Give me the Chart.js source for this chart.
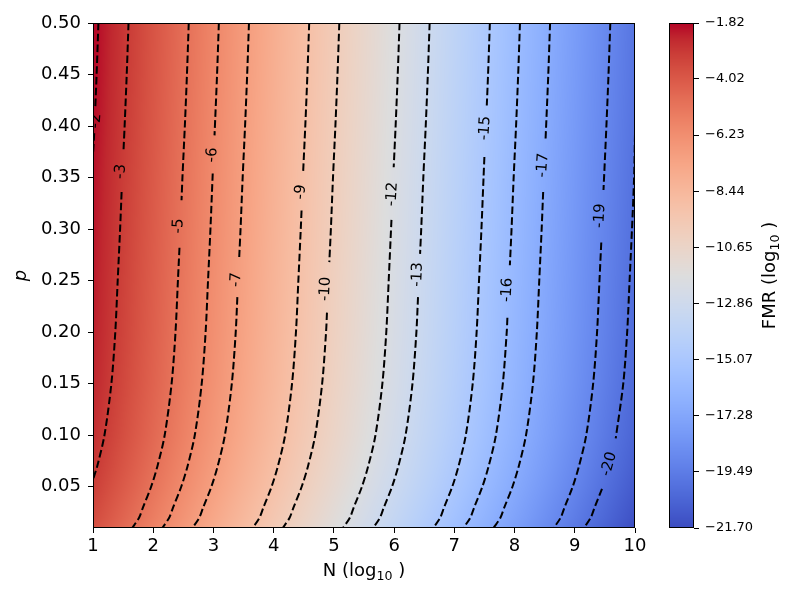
<!DOCTYPE html>
<html>
<head>
<meta charset="utf-8">
<script src="https://cdn.jsdelivr.net/npm/chart.js@4.4.1/dist/chart.umd.min.js"></script>
<style>
  html, body { margin: 0; padding: 0; background: #fff; }
  #wrap { position: relative; width: 800px; height: 600px; }
  #main { position: absolute; left: 0; top: 0; }
  #cbar { position: absolute; left: 655px; top: 0; }
</style>
</head>
<body>
<div id="wrap">
  <canvas id="main" width="800" height="600"></canvas>
  <canvas id="cbar" width="145" height="600"></canvas>
</div>
<script>
/* FMR (log10) over N (log10) and p, with dashed contour lines */

// grid of the coloured field
const nGrid = [1, 1.5, 2, 2.5, 3, 3.5, 4, 4.5, 5, 5.5, 6, 6.5, 7, 7.5, 8, 8.5, 9, 9.5, 10];
const pGrid = [0.5, 0.45, 0.4, 0.35, 0.3, 0.25, 0.2, 0.15, 0.1, 0.07, 0.05, 0.03, 0.02, 0.01];
const fmrGrid = [
  [-1.82, -2.82, -3.82, -4.82, -5.82, -6.82, -7.82, -8.82, -9.82, -10.82, -11.82, -12.82, -13.82, -14.82, -15.82, -16.82, -17.82, -18.82, -19.82],
  [-1.88, -2.88, -3.88, -4.88, -5.88, -6.88, -7.88, -8.88, -9.88, -10.88, -11.88, -12.88, -13.88, -14.88, -15.88, -16.88, -17.88, -18.88, -19.88],
  [-1.95, -2.95, -3.95, -4.95, -5.95, -6.95, -7.95, -8.95, -9.95, -10.95, -11.95, -12.95, -13.95, -14.95, -15.95, -16.95, -17.95, -18.95, -19.95],
  [-2.03, -3.03, -4.03, -5.03, -6.03, -7.03, -8.03, -9.03, -10.03, -11.03, -12.03, -13.03, -14.03, -15.03, -16.03, -17.03, -18.03, -19.03, -20.03],
  [-2.10, -3.10, -4.10, -5.10, -6.10, -7.10, -8.10, -9.10, -10.10, -11.10, -12.10, -13.10, -14.10, -15.10, -16.10, -17.10, -18.10, -19.10, -20.10],
  [-2.18, -3.18, -4.18, -5.18, -6.18, -7.18, -8.18, -9.18, -10.18, -11.18, -12.18, -13.18, -14.18, -15.18, -16.18, -17.18, -18.18, -19.18, -20.18],
  [-2.26, -3.26, -4.26, -5.26, -6.26, -7.26, -8.26, -9.26, -10.26, -11.26, -12.26, -13.26, -14.26, -15.26, -16.26, -17.26, -18.26, -19.26, -20.26],
  [-2.39, -3.39, -4.39, -5.39, -6.39, -7.39, -8.39, -9.39, -10.39, -11.39, -12.39, -13.39, -14.39, -15.39, -16.39, -17.39, -18.39, -19.39, -20.39],
  [-2.62, -3.62, -4.62, -5.62, -6.62, -7.62, -8.62, -9.62, -10.62, -11.62, -12.62, -13.62, -14.62, -15.62, -16.62, -17.62, -18.62, -19.62, -20.62],
  [-2.86, -3.86, -4.86, -5.86, -6.86, -7.86, -8.86, -9.86, -10.86, -11.86, -12.86, -13.86, -14.86, -15.86, -16.86, -17.86, -18.86, -19.86, -20.86],
  [-3.07, -4.07, -5.07, -6.07, -7.07, -8.07, -9.07, -10.07, -11.07, -12.07, -13.07, -14.07, -15.07, -16.07, -17.07, -18.07, -19.07, -20.07, -21.07],
  [-3.34, -4.34, -5.34, -6.34, -7.34, -8.34, -9.34, -10.34, -11.34, -12.34, -13.34, -14.34, -15.34, -16.34, -17.34, -18.34, -19.34, -20.34, -21.34],
  [-3.47, -4.47, -5.47, -6.47, -7.47, -8.47, -9.47, -10.47, -11.47, -12.47, -13.47, -14.47, -15.47, -16.47, -17.47, -18.47, -19.47, -20.47, -21.47],
  [-3.70, -4.70, -5.70, -6.70, -7.70, -8.70, -9.70, -10.70, -11.70, -12.70, -13.70, -14.70, -15.70, -16.70, -17.70, -18.70, -19.70, -20.70, -21.70]
];

// contour levels; each one is a list of segments of [N, p] points (gaps where the label sits)
const contourLevels = [-2, -3, -5, -6, -7, -9, -10, -12, -13, -15, -16, -17, -19, -20];
const contourSegs = [
  [[[1.09, 0.5], [1.06, 0.45], [1.038, 0.418]], [[1.02, 0.393], [1.0, 0.372]]],
  [[[1.59, 0.5], [1.56, 0.45], [1.525, 0.4], [1.507, 0.377]],
   [[1.475, 0.336], [1.45, 0.3], [1.41, 0.25], [1.37, 0.2], [1.305, 0.15], [1.19, 0.1], [1.07, 0.07], [1.0, 0.057]]],
  [[[2.59, 0.5], [2.56, 0.45], [2.525, 0.4], [2.485, 0.35], [2.47, 0.328]],
   [[2.436, 0.282], [2.41, 0.25], [2.37, 0.2], [2.305, 0.15], [2.19, 0.1], [2.07, 0.07], [1.965, 0.05], [1.83, 0.03], [1.765, 0.02], [1.65, 0.01]]],
  [[[3.09, 0.5], [3.06, 0.45], [3.018, 0.391]],
   [[2.988, 0.354], [2.95, 0.3], [2.91, 0.25], [2.87, 0.2], [2.805, 0.15], [2.69, 0.1], [2.57, 0.07], [2.465, 0.05], [2.33, 0.03], [2.265, 0.02], [2.15, 0.01]]],
  [[[3.59, 0.5], [3.56, 0.45], [3.525, 0.4], [3.485, 0.35], [3.45, 0.3], [3.428, 0.273]],
   [[3.397, 0.234], [3.37, 0.2], [3.305, 0.15], [3.19, 0.1], [3.07, 0.07], [2.965, 0.05], [2.83, 0.03], [2.765, 0.02], [2.65, 0.01]]],
  [[[4.59, 0.5], [4.56, 0.45], [4.525, 0.4], [4.489, 0.355]],
   [[4.463, 0.318], [4.45, 0.3], [4.41, 0.25], [4.37, 0.2], [4.305, 0.15], [4.19, 0.1], [4.07, 0.07], [3.965, 0.05], [3.83, 0.03], [3.765, 0.02], [3.65, 0.01]]],
  [[[5.09, 0.5], [5.06, 0.45], [5.025, 0.4], [4.985, 0.35], [4.95, 0.3], [4.924, 0.268]],
   [[4.885, 0.219], [4.87, 0.2], [4.805, 0.15], [4.69, 0.1], [4.57, 0.07], [4.465, 0.05], [4.33, 0.03], [4.265, 0.02], [4.15, 0.01]]],
  [[[6.09, 0.5], [6.06, 0.45], [6.025, 0.4], [5.993, 0.36]],
   [[5.956, 0.309], [5.91, 0.25], [5.87, 0.2], [5.805, 0.15], [5.69, 0.1], [5.57, 0.07], [5.465, 0.05], [5.33, 0.03], [5.265, 0.02], [5.15, 0.01]]],
  [[[6.59, 0.5], [6.56, 0.45], [6.525, 0.4], [6.485, 0.35], [6.45, 0.3], [6.431, 0.276]],
   [[6.397, 0.234], [6.37, 0.2], [6.305, 0.15], [6.19, 0.1], [6.07, 0.07], [5.965, 0.05], [5.83, 0.03], [5.765, 0.02], [5.65, 0.01]]],
  [[[7.59, 0.5], [7.56, 0.45], [7.539, 0.42]],
   [[7.499, 0.37], [7.485, 0.35], [7.45, 0.3], [7.41, 0.25], [7.37, 0.2], [7.305, 0.15], [7.19, 0.1], [7.07, 0.07], [6.965, 0.05], [6.83, 0.03], [6.765, 0.02], [6.65, 0.01]]],
  [[[8.09, 0.5], [8.06, 0.45], [8.025, 0.4], [7.985, 0.35], [7.95, 0.3], [7.922, 0.265]],
   [[7.881, 0.214], [7.87, 0.2], [7.805, 0.15], [7.69, 0.1], [7.57, 0.07], [7.465, 0.05], [7.33, 0.03], [7.265, 0.02], [7.15, 0.01]]],
  [[[8.59, 0.5], [8.56, 0.45], [8.514, 0.386]],
   [[8.475, 0.336], [8.45, 0.3], [8.41, 0.25], [8.37, 0.2], [8.305, 0.15], [8.19, 0.1], [8.07, 0.07], [7.965, 0.05], [7.83, 0.03], [7.765, 0.02], [7.65, 0.01]]],
  [[[9.59, 0.5], [9.56, 0.45], [9.525, 0.4], [9.477, 0.338]],
   [[9.44, 0.287], [9.41, 0.25], [9.37, 0.2], [9.305, 0.15], [9.19, 0.1], [9.07, 0.07], [8.965, 0.05], [8.83, 0.03], [8.765, 0.02], [8.65, 0.01]]],
  [[[10.0, 0.392], [9.985, 0.35], [9.95, 0.3], [9.91, 0.25], [9.87, 0.2], [9.805, 0.15], [9.68, 0.097]],
   [[9.452, 0.048], [9.33, 0.03], [9.265, 0.02], [9.15, 0.01]]]
];

// inline contour labels: position (N, p) and text angle in degrees
const labelN = [1.05, 1.46, 2.42, 2.98, 3.38, 4.45, 4.86, 5.97, 6.39, 7.51, 7.88, 8.47, 9.42, 9.57];
const labelP = [0.405, 0.356, 0.303, 0.372, 0.251, 0.336, 0.242, 0.334, 0.256, 0.398, 0.241, 0.362, 0.313, 0.072];
const labelAngle = [-86, -86, -87, -86, -87, -86, -87, -86, -87, -86, -87, -86, -87, -74];

const xTicks = [1, 2, 3, 4, 5, 6, 7, 8, 9, 10];
const yTicks = [0.05, 0.10, 0.15, 0.20, 0.25, 0.30, 0.35, 0.40, 0.45, 0.50];
const cbTicks = [-1.82, -4.02, -6.23, -8.44, -10.65, -12.86, -15.07, -17.28, -19.49, -21.70];

const FONT = 'DejaVu Sans';
const cbMax = cbTicks[0];
const cbMin = cbTicks[cbTicks.length - 1];

// matplotlib "coolwarm" colour table
const coolwarm = [
  [59, 76, 192], [68, 90, 204], [77, 104, 215], [87, 117, 225], [98, 130, 234], [108, 142, 241],
  [119, 154, 247], [130, 165, 251], [141, 176, 254], [152, 185, 255], [163, 194, 255], [174, 201, 253],
  [184, 208, 249], [194, 213, 244], [204, 217, 238], [213, 219, 230], [221, 221, 221], [229, 216, 209],
  [236, 211, 197], [241, 204, 185], [245, 196, 173], [247, 187, 160], [247, 177, 148], [247, 166, 135],
  [244, 154, 123], [241, 141, 111], [236, 127, 99], [229, 112, 88], [222, 96, 77], [213, 80, 66],
  [203, 62, 56], [192, 40, 47], [180, 4, 38]
];

function colourAt(v) {
  let t = (v - cbMin) / (cbMax - cbMin);
  t = Math.min(1, Math.max(0, t));
  const f = t * (coolwarm.length - 1);
  const k = Math.min(Math.floor(f), coolwarm.length - 2);
  const u = f - k;
  const a = coolwarm[k], b = coolwarm[k + 1];
  return [a[0] + (b[0] - a[0]) * u, a[1] + (b[1] - a[1]) * u, a[2] + (b[2] - a[2]) * u];
}

// index + fraction of v inside a (possibly descending) grid
function locate(arr, v) {
  const last = arr.length - 1;
  for (let k = 0; k < last; k++) {
    if ((v - arr[k]) * (v - arr[k + 1]) <= 0) return [k, (v - arr[k]) / (arr[k + 1] - arr[k])];
  }
  return Math.abs(v - arr[0]) < Math.abs(v - arr[last]) ? [0, 0] : [last - 1, 1];
}

// "<head> (log10 )" with a lowered, smaller 10
function drawLogLabel(ctx, head, cx, cy, size, angle) {
  const big = size + 'px "' + FONT + '"';
  const small = (size * 0.7).toFixed(1) + 'px "' + FONT + '"';
  ctx.save();
  ctx.translate(cx, cy);
  ctx.rotate(angle);
  ctx.fillStyle = '#000';
  ctx.textAlign = 'left';
  ctx.textBaseline = 'middle';
  ctx.font = big;
  const w1 = ctx.measureText(head + ' (log').width;
  const w3 = ctx.measureText(' )').width;
  ctx.font = small;
  const w2 = ctx.measureText('10').width;
  const x0 = -(w1 + w2 + w3) / 2;
  ctx.font = big;
  ctx.fillText(head + ' (log', x0, 0);
  ctx.font = small;
  ctx.fillText('10', x0 + w1, size * 0.3);
  ctx.font = big;
  ctx.fillText(' )', x0 + w1 + w2, 0);
  ctx.restore();
}

// field drawn under the contour lines
const heatPlugin = {
  id: 'heat',
  beforeDatasetsDraw(chart) {
    const { ctx, chartArea: a, scales: { x, y } } = chart;
    const w = Math.round(a.right - a.left), h = Math.round(a.bottom - a.top);
    const off = document.createElement('canvas');
    off.width = w; off.height = h;
    const octx = off.getContext('2d');
    const img = octx.createImageData(w, h);
    const cols = [];
    for (let i = 0; i < w; i++) cols.push(locate(nGrid, x.getValueForPixel(a.left + i + 0.5)));
    for (let j = 0; j < h; j++) {
      const [r, s] = locate(pGrid, y.getValueForPixel(a.top + j + 0.5));
      const row0 = fmrGrid[r], row1 = fmrGrid[r + 1];
      for (let i = 0; i < w; i++) {
        const [c, t] = cols[i];
        const top = row0[c] + (row0[c + 1] - row0[c]) * t;
        const bot = row1[c] + (row1[c + 1] - row1[c]) * t;
        const rgb = colourAt(top + (bot - top) * s);
        const o = (j * w + i) * 4;
        img.data[o] = rgb[0]; img.data[o + 1] = rgb[1]; img.data[o + 2] = rgb[2]; img.data[o + 3] = 255;
      }
    }
    octx.putImageData(img, 0, 0);
    ctx.drawImage(off, a.left, a.top, a.right - a.left, a.bottom - a.top);
  }
};

const labelPlugin = {
  id: 'clabels',
  afterDatasetsDraw(chart) {
    const { ctx, chartArea: a, scales: { x, y } } = chart;
    ctx.save();
    ctx.beginPath();
    ctx.rect(a.left, a.top, a.right - a.left, a.bottom - a.top);
    ctx.clip();
    ctx.font = '15px "' + FONT + '"';
    ctx.fillStyle = '#000';
    ctx.textAlign = 'center';
    ctx.textBaseline = 'middle';
    contourLevels.forEach((lv, i) => {
      ctx.save();
      ctx.translate(x.getPixelForValue(labelN[i]), y.getPixelForValue(labelP[i]));
      ctx.rotate(labelAngle[i] * Math.PI / 180);
      ctx.fillText(String(lv), 0, 0);
      ctx.restore();
    });
    ctx.restore();
  },
  afterDraw(chart) {
    const { ctx, chartArea: a } = chart;
    ctx.save();
    ctx.strokeStyle = '#000';
    ctx.lineWidth = 1;
    ctx.strokeRect(Math.round(a.left) + 0.5, Math.round(a.top) + 0.5, Math.round(a.right - a.left) - 1, Math.round(a.bottom - a.top) - 1);
    ctx.restore();
    drawLogLabel(ctx, 'N', (a.left + a.right) / 2, 571.5, 18, 0);
  }
};

const datasets = [];
contourSegs.forEach(segs => {
  segs.forEach(seg => {
    datasets.push({
      data: seg.map(pt => ({ x: pt[0], y: pt[1] })),
      showLine: true,
      borderColor: '#000',
      borderWidth: 2,
      borderDash: [7.5, 3.3],
      pointRadius: 0,
      tension: 0.3
    });
  });
});

new Chart(document.getElementById('main'), {
  type: 'scatter',
  data: { datasets },
  options: {
    responsive: false,
    animation: false,
    events: [],
    layout: { padding: { left: 0, top: 23, right: 165, bottom: 0 } },
    plugins: { legend: { display: false }, tooltip: { enabled: false } },
    scales: {
      x: {
        type: 'linear', min: 1, max: 10,
        afterBuildTicks: s => { s.ticks = xTicks.map(v => ({ value: v })); },
        afterFit: s => { s.height = 72; },
        grid: { drawOnChartArea: false, tickLength: 5, tickColor: '#000', tickWidth: 1 },
        border: { display: false },
        ticks: { autoSkip: false, maxRotation: 0, color: '#000', padding: 3, font: { family: FONT, size: 18 }, callback: v => String(v) }
      },
      y: {
        type: 'linear', min: 0.01, max: 0.5,
        afterBuildTicks: s => { s.ticks = yTicks.map(v => ({ value: v })); },
        afterFit: s => { s.width = 93; },
        grid: { drawOnChartArea: false, tickLength: 5, tickColor: '#000', tickWidth: 1 },
        border: { display: false },
        ticks: { autoSkip: false, color: '#000', padding: 7, font: { family: FONT, size: 18 }, callback: v => v.toFixed(2) },
        title: { display: true, text: 'p', color: '#000', font: { family: FONT, size: 18, style: 'italic' }, padding: { top: 11, bottom: 0 } }
      }
    }
  },
  plugins: [heatPlugin, labelPlugin]
});

// colour bar
const cbarPlugin = {
  id: 'cbarFill',
  beforeDatasetsDraw(chart) {
    const { ctx, chartArea: a, scales: { y } } = chart;
    for (let j = Math.floor(a.top); j < Math.ceil(a.bottom); j++) {
      const rgb = colourAt(y.getValueForPixel(j + 0.5));
      ctx.fillStyle = 'rgb(' + rgb.map(Math.round).join(',') + ')';
      ctx.fillRect(a.left, j, a.right - a.left, 1);
    }
  },
  afterDraw(chart) {
    const { ctx, chartArea: a } = chart;
    ctx.save();
    ctx.strokeStyle = '#000';
    ctx.lineWidth = 1;
    ctx.strokeRect(Math.round(a.left) + 0.5, Math.round(a.top) + 0.5, Math.round(a.right - a.left) - 1, Math.round(a.bottom - a.top) - 1);
    ctx.restore();
    drawLogLabel(ctx, 'FMR', 115, (a.top + a.bottom) / 2, 18, -Math.PI / 2);
  }
};

new Chart(document.getElementById('cbar'), {
  type: 'scatter',
  data: { datasets: [] },
  options: {
    responsive: false,
    animation: false,
    events: [],
    layout: { padding: { left: 14, top: 23, right: 0, bottom: 72 } },
    plugins: { legend: { display: false }, tooltip: { enabled: false } },
    scales: {
      x: { display: false, min: 0, max: 1 },
      y: {
        type: 'linear', position: 'right', min: cbMin, max: cbMax,
        afterBuildTicks: s => { s.ticks = cbTicks.map(v => ({ value: v })); },
        afterFit: s => { s.width = 106; },
        grid: { drawOnChartArea: false, tickLength: 5, tickColor: '#000', tickWidth: 1 },
        border: { display: false },
        ticks: { autoSkip: false, color: '#000', padding: 6, font: { family: FONT, size: 13 }, callback: v => '\u2212' + Math.abs(v).toFixed(2) }
      }
    }
  },
  plugins: [cbarPlugin]
});
</script>
</body>
</html>
